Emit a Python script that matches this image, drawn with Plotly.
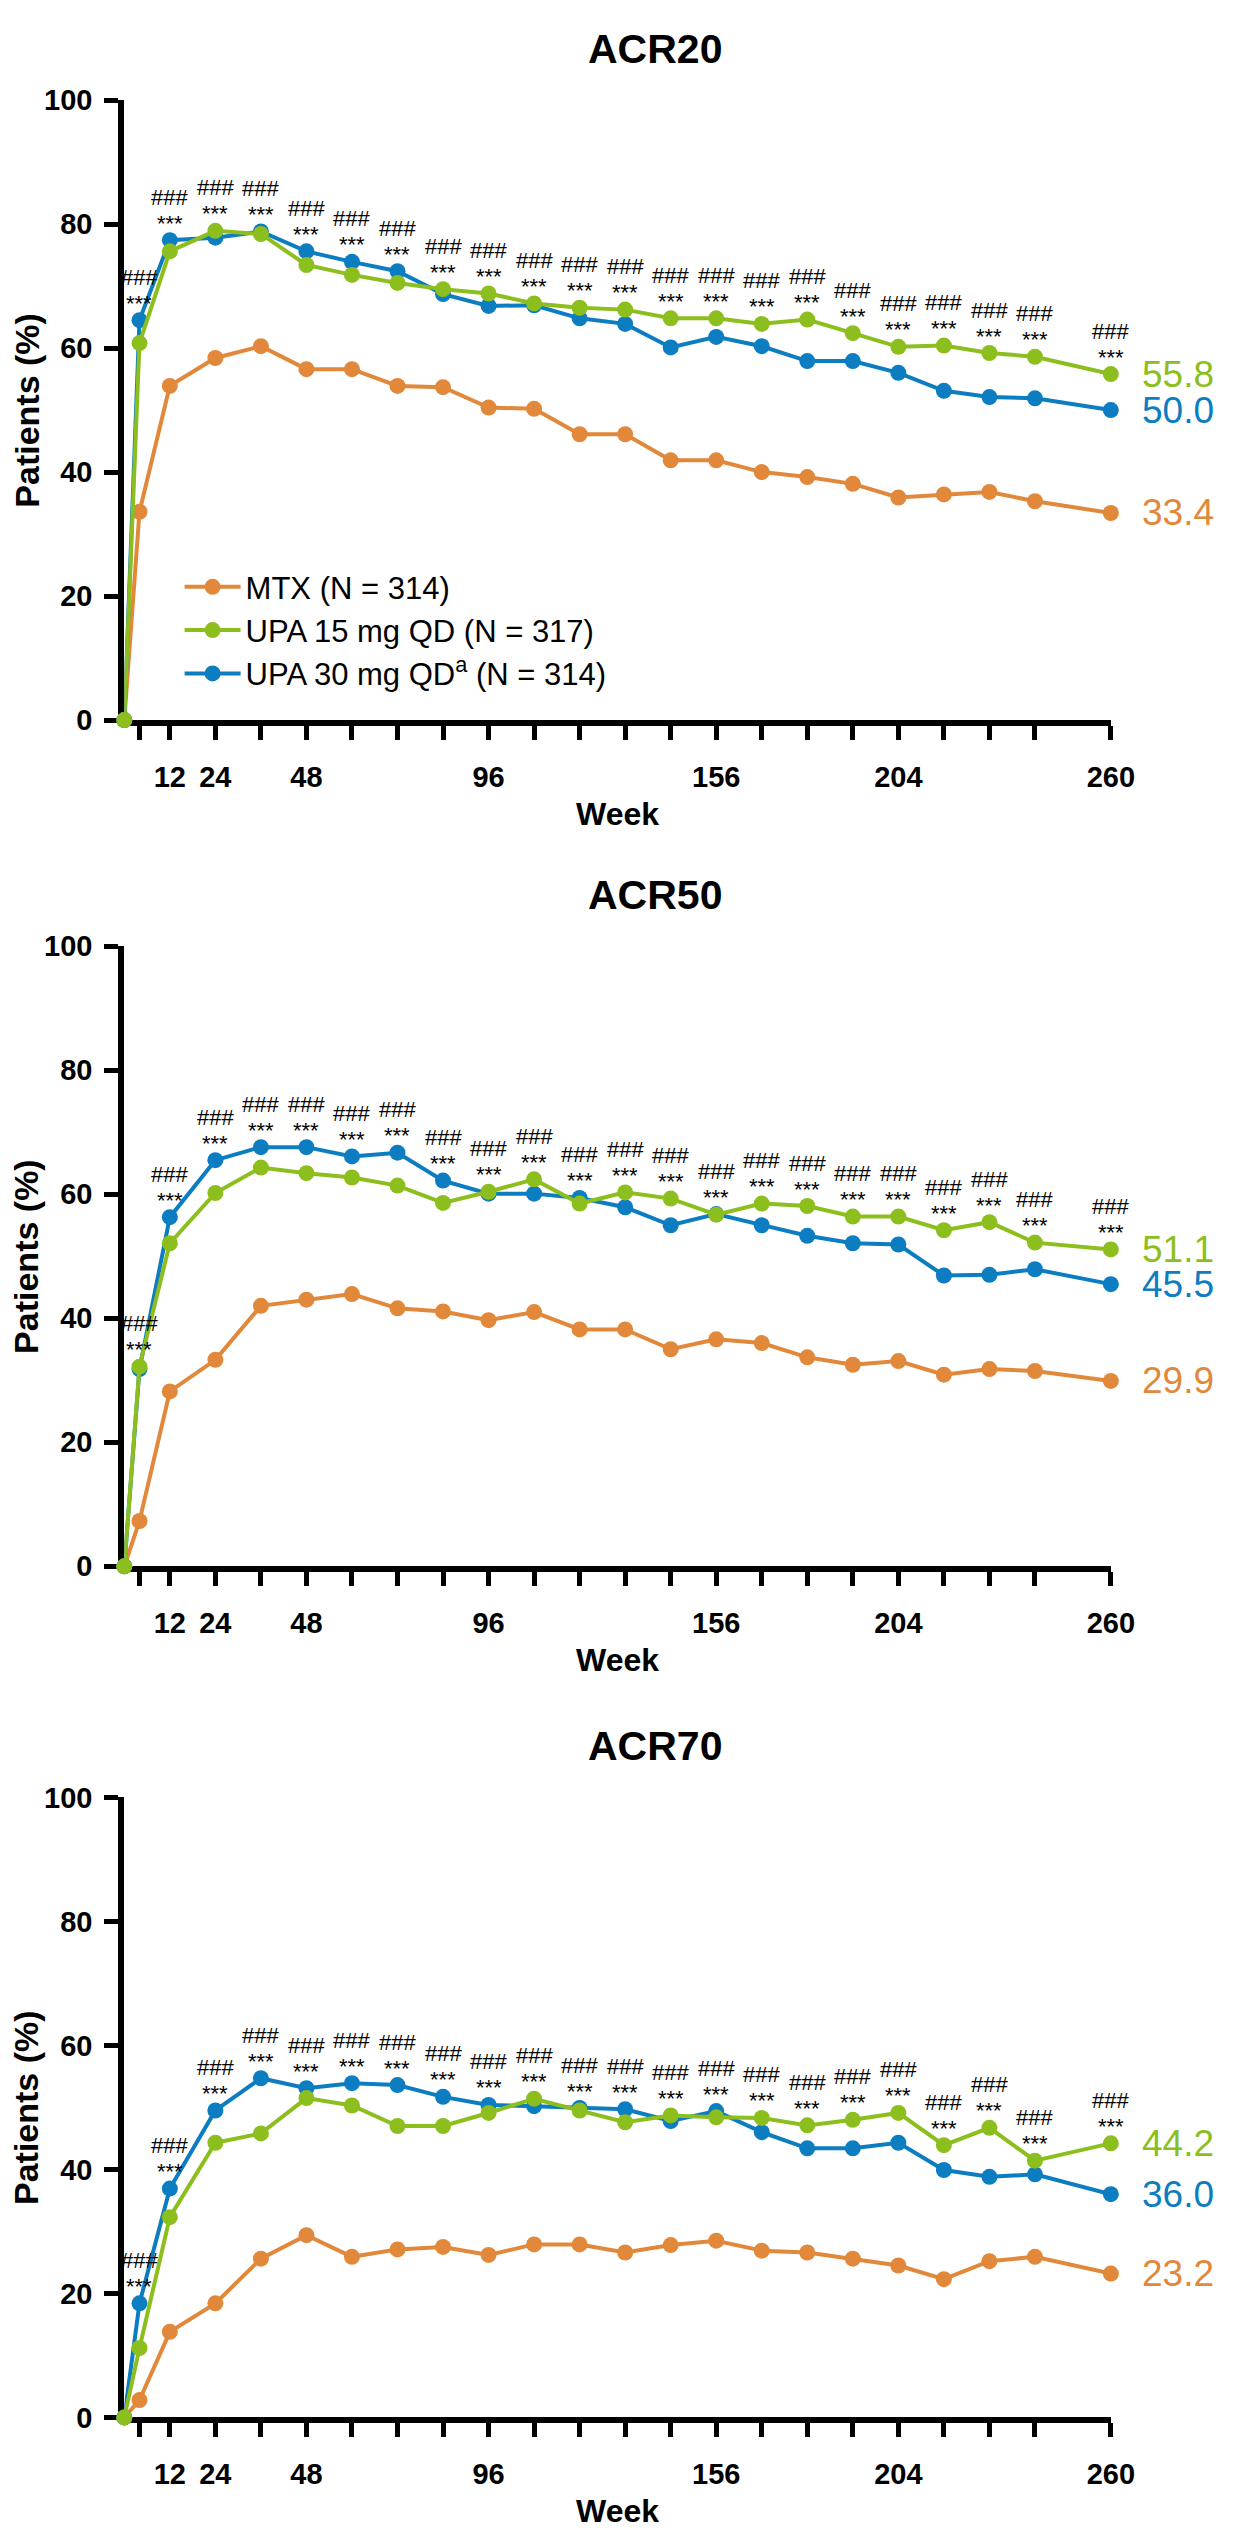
import plotly.graph_objects as go

# ---------------- data ----------------
weeks = [0, 4, 12, 24, 36, 48, 60, 72, 84, 96, 108, 120, 132, 144, 156, 168, 180, 192, 204, 216, 228, 240, 260]
tick_weeks = [4, 12, 24, 36, 48, 60, 72, 84, 96, 108, 120, 132, 144, 156, 168, 180, 192, 204, 216, 228, 240, 260]
tick_text = [" ", "12", "24", " ", "48", " ", " ", " ", "96", " ", " ", " ", " ", "156", " ", " ", " ", "204", " ", " ", " ", "260"]
y_ticks = [0, 20, 40, 60, 80, 100]

panel_titles = ["ACR20", "ACR50", "ACR70"]
series_names = ["MTX (N = 314)", "UPA 15 mg QD (N = 317)", "UPA 30 mg QD<sup>a</sup> (N = 314)"]

acr20_mtx = [0, 33.6, 53.9, 58.4, 60.3, 56.6, 56.6, 53.9, 53.7, 50.4, 50.2, 46.1, 46.1, 41.9, 41.9, 40.0, 39.2, 38.1, 35.9, 36.4, 36.8, 35.3, 33.4]
acr20_upa15 = [0, 60.8, 75.6, 78.9, 78.4, 73.4, 71.8, 70.5, 69.5, 68.8, 67.2, 66.5, 66.2, 64.8, 64.8, 63.9, 64.6, 62.4, 60.2, 60.4, 59.2, 58.6, 55.8]
acr20_upa30 = [0, 64.5, 77.4, 77.8, 78.8, 75.6, 73.9, 72.4, 68.7, 66.8, 66.9, 64.8, 63.9, 60.1, 61.8, 60.3, 57.9, 57.9, 56.0, 53.1, 52.1, 51.9, 50.0]

acr50_mtx = [0, 7.3, 28.2, 33.3, 42.0, 43.0, 43.9, 41.6, 41.1, 39.7, 41.0, 38.2, 38.2, 35.0, 36.6, 36.0, 33.7, 32.5, 33.1, 30.9, 31.8, 31.5, 29.9]
acr50_upa15 = [0, 32.2, 52.1, 60.2, 64.3, 63.4, 62.7, 61.4, 58.6, 60.4, 62.4, 58.5, 60.3, 59.3, 56.7, 58.5, 58.1, 56.4, 56.4, 54.2, 55.5, 52.2, 51.1]
acr50_upa30 = [0, 31.8, 56.3, 65.5, 67.6, 67.6, 66.1, 66.7, 62.2, 60.1, 60.1, 59.4, 57.9, 55.0, 56.8, 55.0, 53.3, 52.1, 51.9, 46.9, 47.0, 47.9, 45.5]

acr70_mtx = [0, 2.8, 13.8, 18.4, 25.6, 29.4, 25.9, 27.1, 27.5, 26.2, 27.9, 27.9, 26.6, 27.8, 28.5, 26.9, 26.6, 25.6, 24.5, 22.3, 25.2, 25.9, 23.2]
acr70_upa15 = [0, 11.2, 32.3, 44.3, 45.8, 51.5, 50.3, 47.0, 47.0, 49.1, 51.4, 49.5, 47.6, 48.7, 48.4, 48.3, 47.1, 48.0, 49.1, 43.9, 46.7, 41.4, 44.2]
acr70_upa30 = [0, 18.4, 36.9, 49.5, 54.7, 53.1, 53.9, 53.6, 51.7, 50.4, 50.2, 49.9, 49.7, 47.8, 49.4, 46.0, 43.4, 43.4, 44.3, 39.9, 38.8, 39.2, 36.0]

sig_hash = "###"
sig_star = "***"

# ---------------- styling ----------------
W, H = 1240, 2537
C_MTX = "#E1883A"
C_15 = "#8CBF1E"
C_30 = "#0B7DC0"
FONT = "Arial, 'Liberation Sans', Helvetica, sans-serif"

panels = [
    (acr20_mtx, acr20_upa15, acr20_upa30),
    (acr50_mtx, acr50_upa15, acr50_upa30),
    (acr70_mtx, acr70_upa15, acr70_upa30),
]
panel_top_px = [77, 934, 1796]
panel_h_px = 628
x_left_px, x_right_px = 118.6, 1124.6


def py(p):
    return 1 - p / H


fig = go.Figure()
annotations = []

for k, (mtx, u15, u30) in enumerate(panels):
    ax = "" if k == 0 else str(k + 1)
    xref, yref = "x" + ax, "y" + ax
    # draw order: MTX, UPA30, UPA15 (green on top); legend order via legendrank
    for vals, name, col, rank in [(mtx, series_names[0], C_MTX, 1),
                                  (u30, series_names[2], C_30, 3),
                                  (u15, series_names[1], C_15, 2)]:
        fig.add_trace(go.Scatter(
            x=weeks, y=vals, mode="lines+markers", name=name,
            line=dict(color=col, width=4),
            marker=dict(color=col, size=16, line=dict(width=0)),
            xaxis=xref, yaxis=yref, cliponaxis=False,
            showlegend=(k == 0), legendrank=rank, legendgroup=name,
        ))
        annotations.append(dict(
            x=weeks[-1], y=vals[-1], xref=xref, yref=yref,
            text=f"{vals[-1]:.1f}", showarrow=False, xanchor="left", yanchor="middle",
            xshift=29, font=dict(family=FONT, size=37, color=col)))

    for i in range(1, len(weeks)):
        top = max(u15[i], u30[i])
        annotations.append(dict(x=weeks[i], y=top, xref=xref, yref=yref, text=sig_star,
                                showarrow=False, yanchor="middle", yshift=17,
                                font=dict(family=FONT, size=22, color="black")))
        annotations.append(dict(x=weeks[i], y=top, xref=xref, yref=yref, text=sig_hash,
                                showarrow=False, yanchor="middle", yshift=43,
                                font=dict(family=FONT, size=22, color="black")))

    top_px = panel_top_px[k]
    bot_px = top_px + panel_h_px
    dom_y = [py(bot_px), py(top_px)]
    dom_x = [x_left_px / W, x_right_px / W]
    axis_common = dict(showline=True, linewidth=6, linecolor="black", ticks="outside",
                       ticklen=14, tickwidth=5, tickcolor="black", showgrid=False,
                       zeroline=False, layer="below traces", fixedrange=True)
    fig.update_layout(**{
        "xaxis" + ax: dict(domain=dom_x, range=[0, 260], tickvals=tick_weeks, ticktext=tick_text,
                           anchor=yref, ticklabelstandoff=12,
                           tickfont=dict(family=FONT, size=29, color="black", weight="bold"),
                           **axis_common),
        "yaxis" + ax: dict(domain=dom_y, range=[0, 100], tickvals=y_ticks,
                           anchor=xref, ticklabelstandoff=6,
                           tickfont=dict(family=FONT, size=29, color="black", weight="bold"),
                           **axis_common),
    })

    # panel title
    annotations.append(dict(x=660 / W, y=py(top_px - 52), xref="paper", yref="paper",
                            text=f"<b>{panel_titles[k]}</b>", showarrow=False,
                            xanchor="center", yanchor="middle",
                            font=dict(family=FONT, size=41, color="black")))
    # axis titles
    annotations.append(dict(x=(x_left_px + x_right_px) / 2 / W, y=py(bot_px + 95),
                            xref="paper", yref="paper", text="<b>Week</b>", showarrow=False,
                            xanchor="center", yanchor="middle",
                            font=dict(family=FONT, size=32, color="black")))
    annotations.append(dict(x=19 / W, y=py((top_px + bot_px) / 2), xref="paper", yref="paper",
                            text="<b>Patients (%)</b>", showarrow=False, textangle=-90,
                            xanchor="center", yanchor="middle",
                            font=dict(family=FONT, size=34, color="black")))

fig.update_layout(
    width=W, height=H,
    margin=dict(l=0, r=0, t=0, b=0),
    paper_bgcolor="white", plot_bgcolor="white",
    annotations=annotations,
    showlegend=True,
    legend=dict(x=175 / W, y=py(543), xanchor="left", yanchor="top",
                font=dict(family=FONT, size=31, color="black"),
                bgcolor="rgba(0,0,0,0)", borderwidth=0, itemwidth=56,
                tracegroupgap=7, traceorder="normal"),
)

fig.write_html("out.html")
